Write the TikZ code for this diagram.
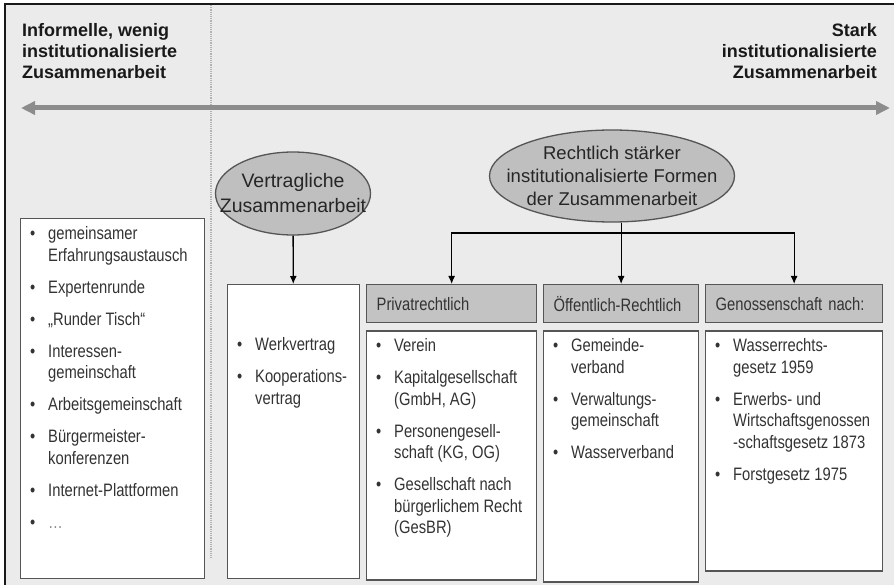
\documentclass[tikz,border=0pt]{standalone}
\usepackage{fontspec}
\setmainfont{Liberation Sans}
\newfontfamily\narrowfont[FakeStretch=0.82]{Liberation Sans}
\usetikzlibrary{arrows.meta, positioning, shapes.geometric}
\definecolor{bg}{HTML}{EBEBEB}
\definecolor{ovalgray}{HTML}{BFBFBF}
\definecolor{headgray}{HTML}{C3C3C3}
\definecolor{rim}{HTML}{555555}
\definecolor{ink}{HTML}{333333}
\definecolor{axis}{HTML}{8C8C8C}

\begin{document}
\begin{tikzpicture}[x=1pt,y=-1pt]

\tikzset{box/.style = {rectangle, draw=rim, line width=1.3pt, fill=white, inner sep=0pt, anchor=north west}}
\tikzset{head/.style = {box, fill=headgray, minimum height=38pt, inner xsep=10pt, align=left, text=ink, font=\narrowfont\fontsize{18}{21.5}\selectfont}}
\tikzset{oval/.style = {ellipse, draw=rim, line width=1.3pt, fill=ovalgray, inner xsep=-24pt, inner ysep=0pt, align=center, text=black!85, font=\fontsize{18.5}{23}\selectfont}}
\tikzset{items/.style = {inner sep=0pt, text=ink, font=\narrowfont\fontsize{18}{21.5}\selectfont}}
\tikzset{title/.style = {inner sep=0pt, text=black!90, font=\bfseries\fontsize{18}{21}\selectfont}}
\tikzset{edge/.style = {->, > = {Latex[length=8pt,width=7pt]}, line width=1.3pt}}
\tikzset{scalearrow/.style = {{Triangle[length=14pt,width=13pt]}-{Triangle[length=14pt,width=13pt]}, draw=axis, line width=5pt}}
\tikzset{divider/.style = {draw=black!30, line width=1.2pt, densely dotted}}

\useasboundingbox (0,0) rectangle (894,585);

%frame
\fill[bg] (5,4) rectangle (894,585);
\draw[line width=1.8pt, black!90] (5,585) -- (5,4) -- (894,4);
\draw[divider] (211,5) -- (211,558);

%titles and scale
\node[title, anchor=north west, align=left] (weak) at (22,23) {Informelle, wenig\\institutionalisierte\\Zusammenarbeit};
\node[title, anchor=north east, align=right] (strong) at (877,23) {Stark\\institutionalisierte\\Zusammenarbeit};
\coordinate (lo) at (21,108);
\coordinate (hi) at (890,108);
\draw[scalearrow] (lo) -- (hi);

%ovals
\node[oval, minimum width=155pt, minimum height=83pt, font=\fontsize{19.5}{25}\selectfont] (vertrag) at (293,193.5) {Vertragliche\\Zusammenarbeit};
\node[oval, minimum width=245pt, minimum height=92pt] (recht) at (612,176) {Rechtlich stärker\\institutionalisierte Formen\\der Zusammenarbeit};

%boxes
\node[box, minimum width=184pt, minimum height=360pt] (info) at (20,218) {};
\node[box, minimum width=132pt, minimum height=294pt] (vbox) at (227,284) {};
\node[head, minimum width=170pt, text width=150pt] (privhead) at (366,284) {Privatrechtlich};
\node[head, minimum width=155pt, text width=135pt] (oeffhead) at (543,284) {Öffentlich-Rechtlich};
\node[head, minimum width=177pt, text width=157pt] (genhead) at (705,284) {Genossenschaft nach:};
\node[box, minimum width=170pt, minimum height=249pt, below right=7pt and 0pt of privhead.south west] (priv) {};
\node[box, minimum width=155pt, minimum height=251pt, below right=7pt and 0pt of oeffhead.south west] (oeff) {};
\node[box, minimum width=177pt, minimum height=240pt, below right=7pt and 0pt of genhead.south west] (gen) {};

%lists
\node[items, below right=6.5pt and 10pt of info.north west] (infolist) {%
\begin{tabular}{@{}p{18pt}@{}l@{}}
\textbullet & gemeinsamer\\
 & Erfahrungsaustausch\\[10.5pt]
\textbullet & Expertenrunde\\[10.5pt]
\textbullet & „Runder Tisch“\\[10.5pt]
\textbullet & Interessen-\\
 & gemeinschaft\\[10.5pt]
\textbullet & Arbeitsgemeinschaft\\[10.5pt]
\textbullet & Bürgermeister-\\
 & konferenzen\\[10.5pt]
\textbullet & Internet-Plattformen\\[10.5pt]
\textbullet & \textcolor{black!45}{…}
\end{tabular}};
\node[items, below right=51.5pt and 10pt of vbox.north west] (vlist) {%
\begin{tabular}{@{}p{18pt}@{}l@{}}
\textbullet & Werkvertrag\\[10.5pt]
\textbullet & Kooperations-\\
 & vertrag
\end{tabular}};
\node[items, below right=6pt and 10pt of priv.north west] (privlist) {%
\begin{tabular}{@{}p{18pt}@{}l@{}}
\textbullet & Verein\\[10.5pt]
\textbullet & Kapitalgesellschaft\\
 & (GmbH, AG)\\[10.5pt]
\textbullet & Personengesell-\\
 & schaft (KG, OG)\\[10.5pt]
\textbullet & Gesellschaft nach\\
 & bürgerlichem Recht\\
 & (GesBR)
\end{tabular}};
\node[items, below right=6pt and 10pt of oeff.north west] (oefflist) {%
\begin{tabular}{@{}p{18pt}@{}l@{}}
\textbullet & Gemeinde-\\
 & verband\\[10.5pt]
\textbullet & Verwaltungs-\\
 & gemeinschaft\\[10.5pt]
\textbullet & Wasserverband
\end{tabular}};
\node[items, below right=6pt and 10pt of gen.north west] (genlist) {%
\begin{tabular}{@{}p{18pt}@{}l@{}}
\textbullet & Wasserrechts-\\
 & gesetz 1959\\[10.5pt]
\textbullet & Erwerbs- und\\
 & Wirtschaftsgenossen\\
 & -schaftsgesetz 1873\\[10.5pt]
\textbullet & Forstgesetz 1975
\end{tabular}};

%connectors
\coordinate (split) at (620,233);
\draw[edge] (vertrag) -- (vbox);
\draw[edge] (recht.south -| oeffhead.north) -- (oeffhead.north);
\draw[edge, <->] (privhead.north) |- (split) -| (genhead.north);

\end{tikzpicture}
\end{document}
